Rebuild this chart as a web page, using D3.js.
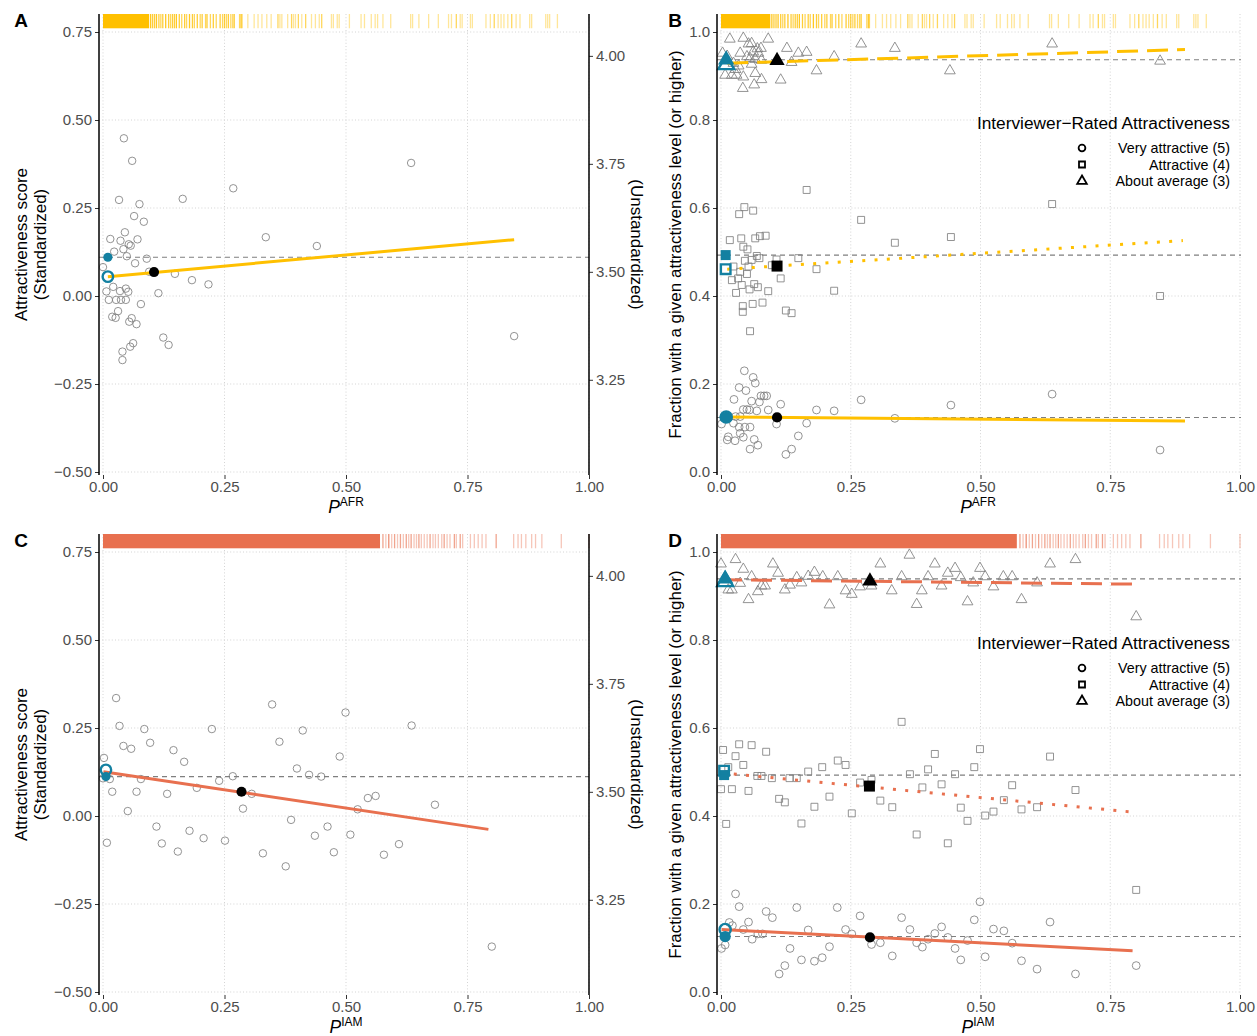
<!DOCTYPE html>
<html>
<head>
<meta charset="utf-8">
<script src="https://cdn.jsdelivr.net/npm/d3@7"></script>
<style>
  body { margin: 0; background: #fff; }
  text { font-family: "Liberation Sans", Arial, Helvetica, sans-serif; }
</style>
</head>
<body>
<svg id="chart" width="1257" height="1036"></svg>
<script>
// ---------------- data ----------------
const ancestryTicks = [0, 0.25, 0.5, 0.75, 1];
const scoreTicks = [-0.5, -0.25, 0, 0.25, 0.5, 0.75];
const rawScoreTicks = [3.25, 3.5, 3.75, 4.0];
const fractionTicks = [0, 0.2, 0.4, 0.6, 0.8, 1.0];
const SCORE_MEAN = 3.444, SCORE_SD = 0.815;   // standardized -> raw interviewer score

const legendTitle = "Interviewer\u2212Rated Attractiveness";
const levelLabels = ["Very attractive (5)", "Attractive (4)", "About average (3)"];

// population means, African ancestry (P_AFR) vs standardized score
const afrScore = [
  [0.043,0.448],[0.060,0.384],[0.268,0.306],[0.033,0.273],[0.164,0.276],[0.075,0.261],[0.064,0.227],
  [0.084,0.211],[0.045,0.181],[0.015,0.162],[0.036,0.157],[0.071,0.161],[0.053,0.147],[0.057,0.143],
  [0.023,0.126],[0.042,0.133],[0.335,0.167],[0.049,0.113],[0.090,0.106],[0.066,0.093],[0.000,0.082],
  [0.095,0.069],[0.148,0.063],[0.183,0.045],[0.217,0.033],[0.114,0.008],[0.021,0.026],[0.007,0.013],
  [0.035,0.014],[0.047,0.021],[0.052,0.012],[0.012,-0.011],[0.027,-0.011],[0.037,-0.011],[0.047,-0.011],
  [0.078,-0.023],[0.031,-0.043],[0.019,-0.059],[0.026,-0.062],[0.059,-0.063],[0.054,-0.073],[0.069,-0.080],
  [0.124,-0.118],[0.135,-0.139],[0.062,-0.134],[0.056,-0.144],[0.040,-0.158],[0.040,-0.182],[0.440,0.142],
  [0.634,0.378],[0.846,-0.114]
];
const afrScoreFit = [[0.010, 0.055], [0.846, 0.160]];
const afrScoreMarks = { observed: [0.010, 0.110], predicted: [0.010, 0.055], sampleMean: [0.105, 0.068] };

// fraction rated at a given level or higher, by P_AFR
const afrAboveAverage = [
  [0.017,0.984],[0.043,0.986],[0.059,0.974],[0.091,0.984],[0.053,0.973],[0.077,0.963],[0.062,0.955],
  [0.072,0.952],[0.003,0.952],[0.037,0.952],[0.050,0.944],[0.056,0.940],[0.066,0.938],[0.078,0.936],
  [0.008,0.902],[0.021,0.902],[0.030,0.902],[0.043,0.898],[0.066,0.906],[0.078,0.892],[0.042,0.872],
  [0.064,0.880],[0.115,0.891],[0.127,0.963],[0.149,0.952],[0.165,0.954],[0.218,0.944],[0.136,0.931],
  [0.184,0.912],[0.270,0.973],[0.335,0.963],[0.441,0.912],[0.638,0.973],[0.846,0.934],[0.024,0.929],
  [0.059,0.927],[0.034,0.923],[0.012,0.945],[0.070,0.962],[0.028,0.915]
];
const afrAttractive = [
  [0.165,0.641],[0.045,0.602],[0.035,0.586],[0.062,0.594],[0.270,0.573],[0.335,0.521],[0.017,0.527],
  [0.039,0.531],[0.075,0.536],[0.086,0.537],[0.066,0.531],[0.043,0.512],[0.051,0.506],[0.069,0.491],
  [0.074,0.486],[0.046,0.480],[0.059,0.482],[0.107,0.483],[0.149,0.486],[0.098,0.470],[0.184,0.461],
  [0.053,0.467],[0.024,0.467],[0.037,0.455],[0.050,0.450],[0.021,0.436],[0.033,0.440],[0.115,0.440],
  [0.040,0.425],[0.064,0.427],[0.055,0.415],[0.071,0.420],[0.029,0.407],[0.091,0.411],[0.218,0.412],
  [0.080,0.385],[0.061,0.382],[0.042,0.377],[0.042,0.364],[0.125,0.367],[0.136,0.361],[0.056,0.320],
  [0.638,0.609],[0.846,0.400],[0.443,0.534]
];
const afrVeryAttractive = [
  [0.045,0.230],[0.062,0.215],[0.066,0.202],[0.035,0.192],[0.048,0.185],[0.025,0.165],[0.077,0.173],
  [0.083,0.173],[0.088,0.173],[0.059,0.161],[0.074,0.159],[0.115,0.154],[0.043,0.142],[0.050,0.142],
  [0.055,0.141],[0.069,0.139],[0.091,0.141],[0.184,0.141],[0.218,0.139],[0.270,0.164],[0.001,0.109],
  [0.024,0.111],[0.035,0.102],[0.046,0.102],[0.056,0.102],[0.028,0.126],[0.037,0.126],[0.107,0.109],
  [0.165,0.111],[0.014,0.080],[0.012,0.073],[0.027,0.071],[0.043,0.079],[0.037,0.088],[0.064,0.074],
  [0.071,0.061],[0.056,0.052],[0.149,0.082],[0.136,0.052],[0.125,0.040],[0.335,0.122],[0.443,0.152],
  [0.638,0.177],[0.846,0.050]
];
const afrFractionFits = {
  veryAttractive: [[0.012, 0.125], [0.894, 0.116]],
  attractive:     [[0.012, 0.461], [0.890, 0.526]],
  aboveAverage:   [[0.012, 0.929], [0.894, 0.960]]
};
const afrFractionMarks = {
  veryAttractive: { observed: [0.010, 0.124], predicted: [0.010, 0.125], sampleMean: [0.108, 0.124] },
  attractive:     { observed: [0.009, 0.493], predicted: [0.009, 0.461], sampleMean: [0.108, 0.468] },
  aboveAverage:   { observed: [0.010, 0.937], predicted: [0.010, 0.926], sampleMean: [0.108, 0.935] }
};

// population means, Indigenous American ancestry (P_IAM) vs standardized score
const iamScore = [
  [0.027,0.335],[0.034,0.256],[0.085,0.247],[0.224,0.247],[0.348,0.317],[0.499,0.294],[0.635,0.257],
  [0.411,0.243],[0.363,0.211],[0.042,0.199],[0.058,0.191],[0.097,0.208],[0.145,0.187],[0.167,0.154],
  [0.002,0.165],[0.487,0.169],[0.399,0.135],[0.424,0.117],[0.449,0.112],[0.267,0.113],[0.239,0.100],
  [0.078,0.105],[0.014,0.105],[0.000,0.107],[0.069,0.069],[0.019,0.069],[0.132,0.063],[0.193,0.080],
  [0.306,0.063],[0.288,0.021],[0.545,0.051],[0.561,0.057],[0.524,0.019],[0.683,0.032],[0.051,0.014],
  [0.387,-0.011],[0.110,-0.030],[0.462,-0.030],[0.178,-0.042],[0.436,-0.056],[0.509,-0.053],[0.207,-0.063],
  [0.251,-0.070],[0.008,-0.076],[0.121,-0.078],[0.154,-0.101],[0.329,-0.106],[0.475,-0.103],[0.609,-0.080],
  [0.578,-0.110],[0.376,-0.143],[0.800,-0.371]
];
const iamScoreFit = [[0.001, 0.126], [0.793, -0.038]];
const iamScoreMarks = { observed: [0.006, 0.112], predicted: [0.006, 0.131], sampleMean: [0.285, 0.069] };

const iamAboveAverage = [
  [0.000,0.973],[0.028,0.983],[0.043,0.961],[0.100,0.973],[0.110,0.952],[0.059,0.944],[0.037,0.929],
  [0.021,0.914],[0.014,0.914],[0.053,0.892],[0.071,0.910],[0.085,0.923],[0.078,0.923],[0.123,0.914],
  [0.133,0.925],[0.146,0.942],[0.155,0.930],[0.168,0.945],[0.180,0.954],[0.196,0.944],[0.209,0.880],
  [0.225,0.944],[0.240,0.912],[0.252,0.904],[0.268,0.921],[0.290,0.923],[0.307,0.973],[0.329,0.912],
  [0.348,0.944],[0.363,0.993],[0.377,0.881],[0.387,0.912],[0.399,0.944],[0.412,0.973],[0.425,0.923],
  [0.437,0.952],[0.451,0.963],[0.462,0.942],[0.475,0.887],[0.486,0.930],[0.499,0.963],[0.509,0.944],
  [0.525,0.921],[0.544,0.944],[0.561,0.944],[0.579,0.892],[0.609,0.930],[0.634,0.973],[0.683,0.983],
  [0.800,0.853]
];
const iamAttractive = [
  [0.004,0.550],[0.035,0.563],[0.059,0.561],[0.028,0.536],[0.087,0.546],[0.043,0.516],[0.014,0.511],
  [0.070,0.491],[0.078,0.491],[0.098,0.486],[0.132,0.486],[0.146,0.486],[0.168,0.501],[0.195,0.511],
  [0.225,0.526],[0.240,0.516],[0.268,0.476],[0.290,0.482],[0.348,0.614],[0.364,0.495],[0.399,0.506],
  [0.412,0.541],[0.451,0.495],[0.488,0.511],[0.499,0.552],[0.634,0.535],[0.000,0.461],[0.021,0.461],
  [0.053,0.457],[0.112,0.439],[0.123,0.431],[0.180,0.421],[0.209,0.444],[0.252,0.406],[0.307,0.435],
  [0.330,0.420],[0.388,0.465],[0.425,0.472],[0.462,0.419],[0.475,0.389],[0.509,0.401],[0.525,0.410],
  [0.545,0.436],[0.561,0.470],[0.579,0.415],[0.609,0.420],[0.683,0.459],[0.010,0.382],[0.155,0.383],
  [0.377,0.358],[0.437,0.338],[0.800,0.232]
];
const iamVeryAttractive = [
  [0.028,0.223],[0.035,0.194],[0.146,0.192],[0.224,0.192],[0.087,0.183],[0.099,0.169],[0.268,0.173],
  [0.348,0.169],[0.499,0.205],[0.488,0.164],[0.634,0.159],[0.016,0.158],[0.022,0.151],[0.053,0.159],
  [0.043,0.142],[0.060,0.120],[0.071,0.132],[0.080,0.132],[0.168,0.141],[0.240,0.142],[0.252,0.132],
  [0.364,0.142],[0.425,0.148],[0.412,0.133],[0.399,0.120],[0.377,0.112],[0.388,0.102],[0.437,0.124],
  [0.451,0.099],[0.475,0.117],[0.525,0.143],[0.545,0.139],[0.561,0.111],[0.307,0.112],[0.290,0.108],
  [0.330,0.082],[0.209,0.103],[0.133,0.099],[0.001,0.099],[0.008,0.107],[0.155,0.073],[0.180,0.070],
  [0.195,0.078],[0.123,0.060],[0.112,0.041],[0.462,0.073],[0.509,0.080],[0.579,0.071],[0.609,0.052],
  [0.683,0.041],[0.800,0.060]
];
const iamFractionFits = {
  veryAttractive: [[0.001, 0.142], [0.793, 0.094]],
  attractive:     [[0.001, 0.498], [0.793, 0.409]],
  aboveAverage:   [[0.000, 0.937], [0.793, 0.927]]
};
const iamFractionMarks = {
  veryAttractive: { observed: [0.008, 0.126], predicted: [0.008, 0.142], sampleMean: [0.287, 0.124] },
  attractive:     { observed: [0.006, 0.493], predicted: [0.006, 0.503], sampleMean: [0.286, 0.468] },
  aboveAverage:   { observed: [0.008, 0.939], predicted: [0.008, 0.933], sampleMean: [0.287, 0.934] }
};

// individual-level ancestry: dense runs and single ticks [value, number of individuals]
const rugAFRRuns = [[0.000, 0.095]];
const rugAFR = [
  [0.098,4],[0.102,3],[0.106,3],[0.110,4],[0.115,3],[0.119,2],[0.123,3],[0.129,4],[0.135,3],[0.139,2],
  [0.143,3],[0.147,3],[0.151,4],[0.157,3],[0.162,2],[0.168,3],[0.172,2],[0.178,4],[0.184,3],[0.188,2],
  [0.194,3],[0.200,2],[0.204,3],[0.211,2],[0.214,3],[0.221,2],[0.227,3],[0.233,2],[0.241,3],[0.246,2],
  [0.250,3],[0.254,2],[0.258,3],[0.263,2],[0.267,2],[0.270,3],[0.281,2],[0.284,3],[0.286,2],[0.298,1],
  [0.311,1],[0.319,1],[0.327,1],[0.337,1],[0.346,1],[0.360,2],[0.364,1],[0.368,1],[0.380,1],[0.388,2],
  [0.392,1],[0.396,1],[0.402,2],[0.409,1],[0.417,2],[0.429,1],[0.437,1],[0.445,1],[0.450,2],[0.470,1],
  [0.474,1],[0.482,1],[0.486,1],[0.507,1],[0.531,1],[0.538,1],[0.552,1],[0.560,1],[0.565,1],[0.576,1],
  [0.592,1],[0.633,1],[0.637,1],[0.650,1],[0.670,1],[0.690,1],[0.711,1],[0.717,1],[0.727,2],[0.735,1],
  [0.739,1],[0.756,1],[0.760,1],[0.788,1],[0.797,1],[0.805,2],[0.813,1],[0.819,1],[0.825,1],[0.833,1],
  [0.841,2],[0.850,1],[0.858,1],[0.878,1],[0.882,1],[0.911,1],[0.915,1],[0.919,1],[0.935,1]
];
const rugIAMRuns = [[0.000, 0.570]];
const rugIAM = [
  [0.576,2],[0.582,1],[0.588,3],[0.594,1],[0.600,2],[0.606,1],[0.612,2],[0.618,1],[0.624,2],[0.629,1],
  [0.634,2],[0.640,1],[0.645,1],[0.650,2],[0.655,1],[0.661,1],[0.667,1],[0.673,2],[0.679,1],[0.684,1],
  [0.690,1],[0.697,1],[0.702,2],[0.708,1],[0.714,1],[0.723,2],[0.727,1],[0.735,2],[0.740,1],[0.756,1],
  [0.764,1],[0.772,1],[0.780,1],[0.788,1],[0.809,2],[0.845,1],[0.854,1],[0.861,1],[0.870,1],[0.882,1],
  [0.890,1],[0.903,1],[0.943,1],[1.000,1]
];

// ---------------- style ----------------
const GOLD = "#FFC000", CORAL = "#E8704F", BLUE = "#1380A1";
const POINT_GRAY = "#808080", GRID = "#cfcfcf", TICK_TEXT = "#4d4d4d";
const RUG_ALPHA = 0.4;
const TICK_FONT = "15px", TITLE_FONT = "17px";

const svg = d3.select("#chart");
const fmt2 = d3.format(".2f"), fmt1 = d3.format(".1f");

const SHAPES = {
  veryAttractive: d3.symbolCircle,
  attractive: d3.symbolSquare,
  aboveAverage: d3.symbolTriangle
};
const FIT_DASH = { veryAttractive: null, attractive: "3,9.3", aboveAverage: "21,9" };

function frame(kind, rowOffset) {
  const o = rowOffset;
  if (kind === "score") {
    return {
      box: { l: 99, r: 589, t: 14 + o, b: 475 + o },
      x: d3.scaleLinear([0, 1], [103, 589]),
      y: d3.scaleLinear([-0.5, 0.75], [472 + o, 32 + o])
    };
  }
  return {
    box: { l: 717, r: 1241, t: 14 + o, b: 475 + o },
    x: d3.scaleLinear([0, 1], [721, 1240]),
    y: d3.scaleLinear([0, 1], [472 + o, 32 + o])
  };
}

function drawGrid(g, f, yTicks) {
  const gg = g.append("g").attr("stroke", GRID).attr("stroke-width", 0.9)
    .attr("stroke-dasharray", "1,2.2").attr("fill", "none");
  ancestryTicks.forEach(t => gg.append("line")
    .attr("x1", f.x(t)).attr("x2", f.x(t)).attr("y1", f.box.t).attr("y2", f.box.b));
  yTicks.forEach(t => gg.append("line")
    .attr("x1", f.box.l).attr("x2", f.box.r).attr("y1", f.y(t)).attr("y2", f.y(t)));
}

function drawRug(g, f, runs, ticks, color) {
  const len = 14.3;
  const rg = g.append("g");
  rg.selectAll("rect.run").data(runs).join("rect")
    .attr("x", d => f.x(d[0])).attr("width", d => f.x(d[1]) - f.x(d[0]))
    .attr("y", f.box.t).attr("height", len).attr("fill", color);
  rg.selectAll("line.tick").data(ticks).join("line")
    .attr("x1", d => f.x(d[0])).attr("x2", d => f.x(d[0]))
    .attr("y1", f.box.t).attr("y2", f.box.t + len)
    .attr("stroke", color).attr("stroke-width", 1.3)
    .attr("stroke-opacity", d => 1 - Math.pow(1 - RUG_ALPHA, d[1]));
}

function refLine(g, f, v) {
  g.append("line").attr("x1", f.box.l).attr("x2", f.box.r)
    .attr("y1", f.y(v)).attr("y2", f.y(v))
    .attr("stroke", "#7f7f7f").attr("stroke-width", 1.1).attr("stroke-dasharray", "5,4");
}

function grayPoints(g, f, data, shape, size) {
  g.append("g").selectAll("path").data(data).join("path")
    .attr("transform", d => `translate(${f.x(d[0])},${f.y(d[1])})`)
    .attr("d", d3.symbol(shape, size))
    .attr("fill", "none").attr("stroke", POINT_GRAY).attr("stroke-width", 0.85);
}

function fitLine(g, f, pts, color, dash) {
  const line = d3.line().x(d => f.x(d[0])).y(d => f.y(d[1]));
  g.append("path").attr("d", line(pts)).attr("fill", "none")
    .attr("stroke", color).attr("stroke-width", 3)
    .attr("stroke-dasharray", dash).attr("stroke-linecap", "butt");
}

function summaryMarks(g, f, m, shape, sizes) {
  const at = p => `translate(${f.x(p[0])},${f.y(p[1])})`;
  g.append("path").attr("transform", at(m.observed)).attr("d", d3.symbol(shape, sizes.filled)).attr("fill", BLUE);
  g.append("path").attr("transform", at(m.predicted)).attr("d", d3.symbol(shape, sizes.open))
    .attr("fill", "none").attr("stroke", BLUE).attr("stroke-width", 2.4);
  g.append("path").attr("transform", at(m.sampleMean)).attr("d", d3.symbol(shape, sizes.mean)).attr("fill", "#000");
}

function styleTicks(a) {
  a.select(".domain").remove();
  a.selectAll(".tick line").attr("stroke", "#333").attr("stroke-width", 1);
  a.selectAll(".tick text").attr("fill", TICK_TEXT).style("font-size", TICK_FONT)
    .style("font-family", "'Liberation Sans', Arial, sans-serif");
}

function axes(g, f, yTicks, yFmt) {
  const ya = g.append("g").attr("transform", `translate(${f.box.l},0)`)
    .call(d3.axisLeft(f.y).tickValues(yTicks).tickFormat(yFmt).tickSize(4).tickPadding(3));
  const xa = g.append("g").attr("transform", `translate(0,${f.box.b})`)
    .call(d3.axisBottom(f.x).tickValues(ancestryTicks).tickFormat(fmt2).tickSize(4).tickPadding(2));
  styleTicks(ya);
  styleTicks(xa);
  g.append("line").attr("x1", f.box.l).attr("x2", f.box.l).attr("y1", f.box.t).attr("y2", f.box.b)
    .attr("stroke", "#000").attr("stroke-width", 1.5);
}

function xTitle(g, cx, y, sup) {
  const t = g.append("text").attr("x", cx).attr("y", y).attr("text-anchor", "middle").attr("fill", "#000");
  t.append("tspan").text("P").style("font-style", "italic").style("font-size", "17.5px");
  t.append("tspan").text(sup).attr("dy", -7).style("font-size", "12px");
}

function panelLetter(x, y, s) {
  svg.append("text").attr("x", x).attr("y", y).attr("text-anchor", "middle")
    .style("font-size", "19px").style("font-weight", "bold").text(s);
}

function scorePanel(letter, rowOffset, pts, fit, marks, runs, rug, color, sup) {
  const f = frame("score", rowOffset);
  const g = svg.append("g");
  drawGrid(g, f, scoreTicks);
  drawRug(g, f, runs, rug, color);
  refLine(g, f, marks.observed[1]);
  grayPoints(g, f, pts, d3.symbolCircle, 44);
  fitLine(g, f, fit, color, null);
  summaryMarks(g, f, marks, d3.symbolCircle, { filled: 66, open: 86, mean: 80 });
  axes(g, f, scoreTicks, fmt2);

  // secondary axis in raw interviewer-score units
  const yRaw = d3.scaleLinear(
    [SCORE_MEAN + SCORE_SD * -0.5, SCORE_MEAN + SCORE_SD * 0.75], f.y.range());
  const ra = g.append("g").attr("transform", `translate(${f.box.r},0)`)
    .call(d3.axisRight(yRaw).tickValues(rawScoreTicks).tickFormat(fmt2).tickSize(4).tickPadding(3));
  styleTicks(ra);
  g.append("line").attr("x1", f.box.r).attr("x2", f.box.r).attr("y1", f.box.t).attr("y2", f.box.b)
    .attr("stroke", "#000").attr("stroke-width", 1.5);

  const cy = (f.box.t + f.box.b) / 2;
  [["Attractiveness score", 21], ["(Standardized)", 40]].forEach(([s, x]) =>
    g.append("text").attr("transform", `translate(${x},${cy}) rotate(-90)`)
      .attr("text-anchor", "middle").attr("dominant-baseline", "central")
      .style("font-size", TITLE_FONT).text(s));
  g.append("text").attr("transform", `translate(636,${cy}) rotate(90)`)
    .attr("text-anchor", "middle").attr("dominant-baseline", "central")
    .style("font-size", TITLE_FONT).text("(Unstandardized)");
  xTitle(g, 346, f.box.b + 38, sup);
  panelLetter(21, 27 + rowOffset, letter);
}

function fractionPanel(letter, rowOffset, groups, fits, marks, runs, rug, color, sup) {
  const f = frame("fraction", rowOffset);
  const g = svg.append("g");
  drawGrid(g, f, fractionTicks);
  drawRug(g, f, runs, rug, color);
  const keys = ["aboveAverage", "attractive", "veryAttractive"];
  keys.forEach(k => refLine(g, f, marks[k].observed[1]));
  keys.forEach(k => grayPoints(g, f, groups[k], SHAPES[k], k === "aboveAverage" ? 50 : 48));
  keys.forEach(k => fitLine(g, f, fits[k], color, FIT_DASH[k]));
  const sizes = {
    veryAttractive: { filled: 100, open: 100, mean: 82 },
    attractive: { filled: 100, open: 92, mean: 121 },
    aboveAverage: { filled: 115, open: 110, mean: 100 }
  };
  keys.forEach(k => summaryMarks(g, f, marks[k], SHAPES[k], sizes[k]));
  axes(g, f, fractionTicks, fmt1);

  const cy = (f.box.t + f.box.b) / 2;
  g.append("text").attr("transform", `translate(675,${cy}) rotate(-90)`)
    .attr("text-anchor", "middle").attr("dominant-baseline", "central")
    .style("font-size", TITLE_FONT).text("Fraction with a given attractiveness level (or higher)");
  xTitle(g, 978, f.box.b + 38, sup);
  panelLetter(675, 27 + rowOffset, letter);

  // legend
  const lg = g.append("g");
  lg.append("text").attr("x", 1230).attr("y", 129 + rowOffset).attr("text-anchor", "end")
    .style("font-size", "17.3px").text(legendTitle);
  ["veryAttractive", "attractive", "aboveAverage"].forEach((k, i) => {
    const yy = 148 + i * 16.5 + rowOffset;
    lg.append("path").attr("transform", `translate(1082,${yy})`)
      .attr("d", d3.symbol(SHAPES[k], k === "aboveAverage" ? 40 : 36))
      .attr("fill", "none").attr("stroke", "#000").attr("stroke-width", 1.8);
    lg.append("text").attr("x", 1230).attr("y", yy + 5).attr("text-anchor", "end")
      .style("font-size", "14.3px").text(levelLabels[i]);
  });
}

scorePanel("A", 0, afrScore, afrScoreFit, afrScoreMarks, rugAFRRuns, rugAFR, GOLD, "AFR");
fractionPanel("B", 0,
  { veryAttractive: afrVeryAttractive, attractive: afrAttractive, aboveAverage: afrAboveAverage },
  afrFractionFits, afrFractionMarks, rugAFRRuns, rugAFR, GOLD, "AFR");
scorePanel("C", 520, iamScore, iamScoreFit, iamScoreMarks, rugIAMRuns, rugIAM, CORAL, "IAM");
fractionPanel("D", 520,
  { veryAttractive: iamVeryAttractive, attractive: iamAttractive, aboveAverage: iamAboveAverage },
  iamFractionFits, iamFractionMarks, rugIAMRuns, rugIAM, CORAL, "IAM");
</script>
</body>
</html>
